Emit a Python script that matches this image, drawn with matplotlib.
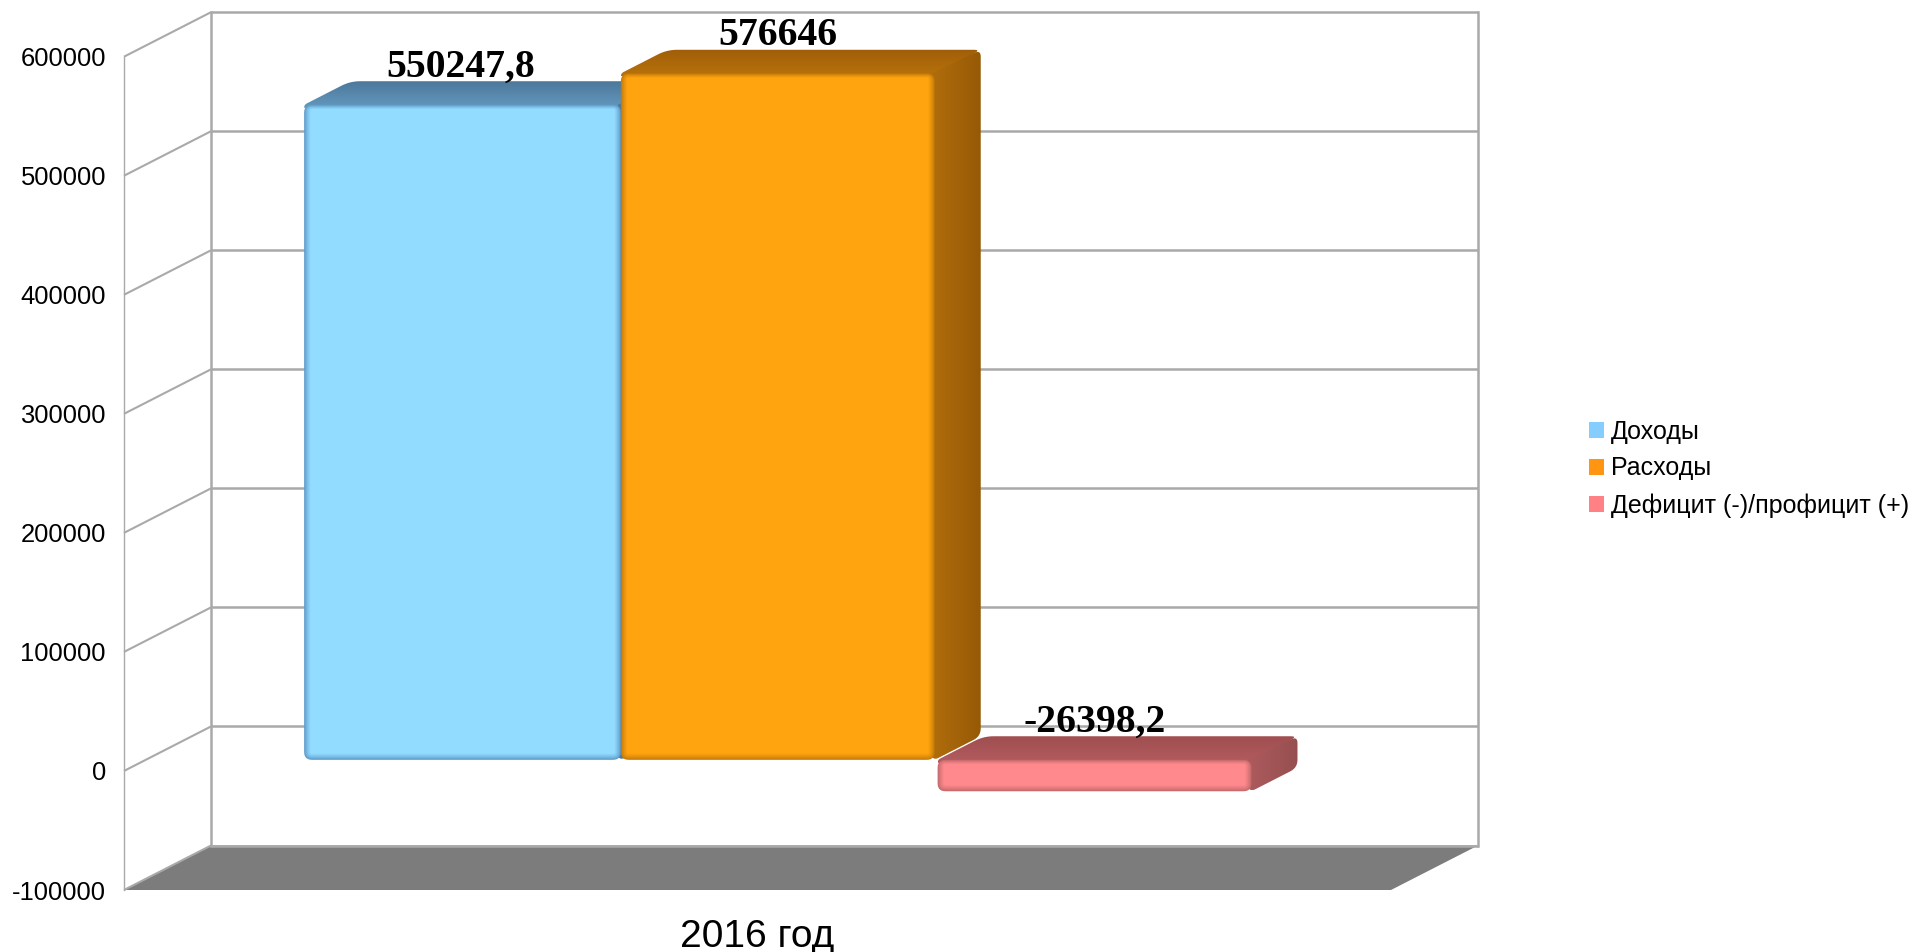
import numpy as np
import matplotlib
matplotlib.use("Agg")
import matplotlib.pyplot as plt
from matplotlib.patches import Patch, PathPatch
from matplotlib.path import Path
from matplotlib.transforms import IdentityTransform
from matplotlib.colors import to_rgb

# ---- data ----
categories = ["2016 год"]
series_names = ["Доходы", "Расходы", "Дефицит (-)/профицит (+)"]
series_values = [550247.8, 576646, -26398.2]
value_labels = ["550247,8", "576646", "-26398,2"]
y_ticks = [-100000, 0, 100000, 200000, 300000, 400000, 500000, 600000]

# ---- style ----
W, H = 1910, 952
FRONT_L, FRONT_R, FRONT_T, FRONT_B = 124, 1391, 56.7, 890
DEPTH_X, DEPTH_Y = 87.0, 44.5       # px shift of the back wall
BAR_D0, BAR_D1 = 0.25, 0.78         # depth range of the bars
GAP = 0.25                          # part of the category left empty
GRID = "#a9a9a9"
legend_colors = ["#85ccff", "#ff9510", "#ff8085"]
front_face = ["#92dcff", "#ffa40f", "#ff898c"]
front_edge = ["#5f9ccb", "#c47a0a", "#c46a6e"]
top_grad = [("#4c789b", "#6498be"), ("#a05e08", "#b8720b"), ("#a04e50", "#b35c5f")]
side_grad = [("#4c789b", "#6498be"), ("#b06d0c", "#965905"), ("#ad5a5d", "#964f50")]
bar_trim = [0, 3, 3]

plt.rcParams["font.family"] = ["Liberation Sans", "DejaVu Sans"]
fig = plt.figure(figsize=(W / 100, H / 100), dpi=100, facecolor="white")
ax = fig.add_axes([FRONT_L / W, (H - FRONT_B) / H, (FRONT_R - FRONT_L) / W, (FRONT_B - FRONT_T) / H])
ax.set_xlim(0, 1)
ax.set_ylim(min(y_ticks), max(y_ticks))
ax.set_autoscale_on(False)
ax.patch.set_visible(False)
for s in ("top", "right", "bottom"):
    ax.spines[s].set_visible(False)
ax.spines["left"].set_color(GRID)
ax.spines["left"].set_linewidth(1.0)
ax.set_yticks(y_ticks, [str(t) for t in y_ticks])
ax.tick_params(axis="y", length=0, pad=13, labelsize=18.4, labelcolor="black")
ax.set_xticks([0.5], categories)
ax.tick_params(axis="x", length=0, pad=21, labelsize=28, labelcolor="black")

to_data_x = DEPTH_X / (FRONT_R - FRONT_L)
to_data_y = DEPTH_Y * (max(y_ticks) - min(y_ticks)) / (FRONT_B - FRONT_T)

# floor
ymin = min(y_ticks)
ax.fill([0, to_data_x, 1 + to_data_x, 1], [ymin, ymin + to_data_y, ymin + to_data_y, ymin],
        color="#7c7c7c", lw=0, clip_on=False, zorder=1)

# walls and gridlines
for t in y_ticks:
    ax.plot([0, to_data_x], [t, t + to_data_y], color=GRID, lw=1.5, clip_on=False, zorder=1.5,
            solid_capstyle="butt")
    ax.plot([to_data_x, 1 + to_data_x], [t + to_data_y] * 2, color=GRID, lw=1.8, clip_on=False, zorder=1.5,
            solid_capstyle="butt")
for xb in (to_data_x, 1 + to_data_x):
    ax.plot([xb, xb], [ymin + to_data_y, max(y_ticks) + to_data_y], color=GRID, lw=1.8,
            clip_on=False, zorder=1.5)


def rounded(points, radii, n=8):
    """Polygon in pixels with rounded corners."""
    pts = np.asarray(points, float)
    out = []
    m = len(pts)
    for i in range(m):
        p, a, b = pts[i], pts[i - 1], pts[(i + 1) % m]
        r = radii[i]
        if r <= 0:
            out.append(p)
            continue
        u = (a - p) / np.linalg.norm(a - p)
        v = (b - p) / np.linalg.norm(b - p)
        s = p + u * r
        e = p + v * r
        for k in np.linspace(0, 1, n):
            out.append((1 - k) ** 2 * s + 2 * k * (1 - k) * p + k ** 2 * e)
    out = np.array(out)
    return Path(np.vstack([out, out[0]]), closed=True)


def lerp(c0, c1, t):
    c0, c1 = np.array(to_rgb(c0)), np.array(to_rgb(c1))
    return tuple(c0 + (c1 - c0) * t)


def gradient_fill(path, c0, c1, vertical, zorder):
    """Fill a pixel path with a gradient. vertical: c0 on top; otherwise c0 on the left."""
    t = np.linspace(0, 1, 64)
    rgb = np.array([lerp(c0, c1, k) for k in t])
    img = rgb[:, None, :] if vertical else rgb[None, :, :]
    v = path.vertices
    inv = ax.transData.inverted()
    (x0, y0), (x1, y1) = inv.transform([v.min(axis=0), v.max(axis=0)])
    im = ax.imshow(img, extent=(x0, x1, y0, y1), origin="upper", aspect="auto",
                   interpolation="bilinear", zorder=zorder)
    im.set_clip_box(fig.bbox)
    im.set_clip_path(path, IdentityTransform())


n_series = len(series_values)
bar_w = (1 - GAP) / n_series
x_start = GAP / 2
BEVEL = 6
for i, (val, label) in enumerate(zip(series_values, value_labels)):
    z = 3 + i
    x_l = x_start + i * bar_w
    (px0, py0) = ax.transData.transform((x_l, 0))
    (px1, py1) = ax.transData.transform((x_l + bar_w, val))
    px1 -= bar_trim[i]
    px0 += BAR_D0 * DEPTH_X; px1 += BAR_D0 * DEPTH_X
    py0 += BAR_D0 * DEPTH_Y; py1 += BAR_D0 * DEPTH_Y
    lo, hi = min(py0, py1), max(py0, py1)
    ddx = (BAR_D1 - BAR_D0) * DEPTH_X
    ddy = (BAR_D1 - BAR_D0) * DEPTH_Y
    ov = 3  # faces run a little under the front face, so no seam shows
    # top face
    top = rounded([(px0, hi - ov), (px0, hi), (px0 + ddx, hi + ddy), (px1 + ddx, hi + ddy),
                   (px1 - ov, hi - ov)], [0, 3, 10, 7, 0])
    gradient_fill(top, top_grad[i][0], top_grad[i][1], True, z)
    # side face
    side = rounded([(px1 - ov, hi), (px1 + ddx, hi + ddy), (px1 + ddx, lo + ddy), (px1, lo),
                    (px1 - ov, lo + ov)], [0, 7, 8, 4, 0])
    gradient_fill(side, side_grad[i][0], side_grad[i][1], False, z + 0.1)
    # front face with a soft bevel
    for k in range(BEVEL + 1):
        t = k / BEVEL
        c = lerp(front_edge[i], front_face[i], t ** 0.8)
        ins = k * 1.0
        rr = max(8 - k, 1)
        front = rounded([(px0 + ins, lo + ins), (px0 + ins, hi - ins * 0.7),
                         (px1 - ins, hi - ins * 0.7), (px1 - ins, lo + ins)], [rr] * 4)
        ax.add_patch(PathPatch(front, facecolor=c, edgecolor="none", transform=IdentityTransform(),
                               clip_on=False, zorder=z + 0.2 + k * 0.01))
    # value label, centred on the front face
    xc = x_l + bar_w / 2 + BAR_D0 * to_data_x
    yc = max(val, 0) + BAR_D0 * to_data_y
    ax.annotate(label, xy=(xc, yc), xytext=(-1, 20.5), textcoords="offset points",
                ha="center", va="baseline", family=["Liberation Serif", "DejaVu Serif"],
                fontweight="bold", fontsize=28.5, color="black", zorder=10, annotation_clip=False)

# legend
handles = [Patch(facecolor=c, edgecolor="none", label=n) for c, n in zip(legend_colors, series_names)]
ax.legend(handles=handles, loc="upper left", bbox_to_anchor=(1588.7 / W, (H - 420) / H),
          bbox_transform=fig.transFigure, frameon=False, fontsize=18, borderpad=0, borderaxespad=0,
          handlelength=0.63, handleheight=0.63, handletextpad=0.25, labelspacing=0.5,
          labelcolor="black")

fig.savefig("out.png", dpi=100, facecolor="white")
